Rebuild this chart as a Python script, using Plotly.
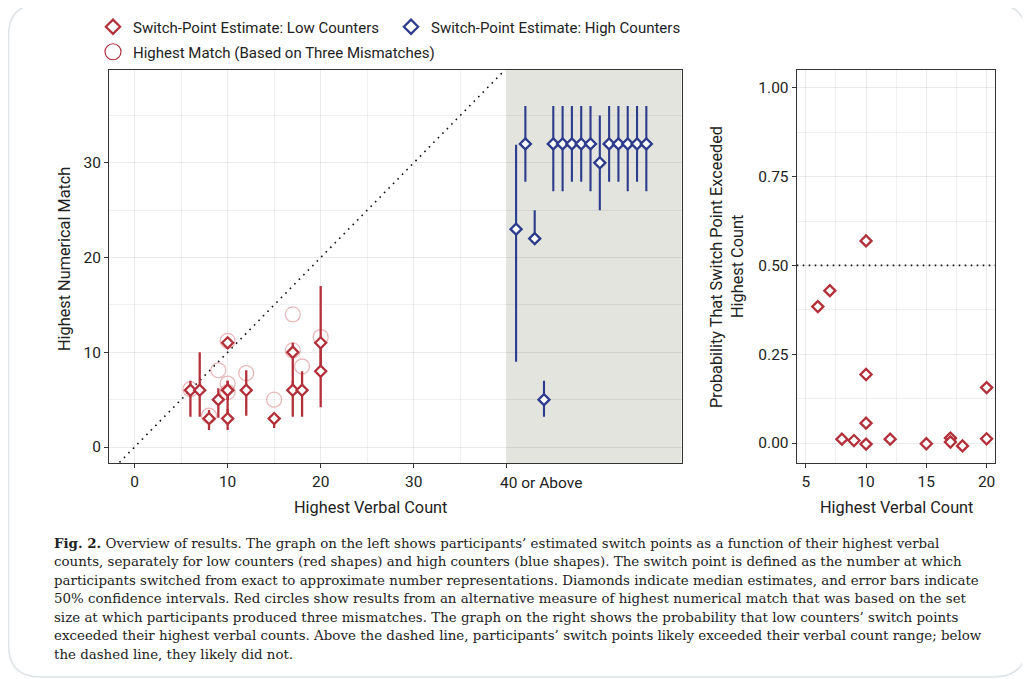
import plotly.graph_objects as go

# ---------------- data ----------------
# Low counters: highest verbal count, switch-point median, 50% CI
low_x = [6, 7, 8, 9, 10, 10, 10, 10, 12, 15, 17, 17, 18, 20, 20]
low_y = [6, 6, 3, 5, 11, 6, 6, 3, 6, 3, 10, 6, 6, 11, 8]
low_lo = [3.2, 3.2, 1.8, 3.1, 11, 3.2, 5, 1.8, 3.3, 2.0, 6, 3.2, 3.2, 8, 4.2]
low_hi = [7, 10, 3.9, 6.2, 11, 7, 7, 4, 8.1, 3.5, 11, 7, 8, 17, 11]

# High counters (40 or above), plotted in order
high_x = [41, 42, 43, 44, 45, 46, 47, 48, 49, 50, 51, 52, 53, 54, 55]
high_y = [23, 32, 22, 5, 32, 32, 32, 32, 32, 30, 32, 32, 32, 32, 32]
high_lo = [9, 28, 22, 3.2, 27, 27, 28, 28, 27, 25, 28, 28, 27, 28, 27]
high_hi = [31.9, 36, 25, 7, 36, 36, 36, 36, 36, 35, 36, 36, 36, 36, 36]

# Highest match based on three mismatches (red circles)
match_x = [6, 8, 9, 10, 10, 10, 12, 15, 17, 17, 18, 20]
match_y = [6.1, 3.3, 8.1, 11.2, 6.7, 5.8, 7.8, 5.0, 14.0, 10.2, 8.5, 11.6]

# Right panel: probability switch point exceeded highest count
prob_x = [6, 7, 8, 9, 10, 10, 10, 10, 12, 15, 17, 17, 18, 20, 20]
prob_y = [0.384, 0.429, 0.011, 0.007, 0.569, 0.193, 0.056, -0.003,
          0.011, -0.002, 0.014, 0.003, -0.008, 0.156, 0.012]
THRESHOLD = 0.5

left_ticks = [0, 10, 20, 30, 40]
left_ticktext = ["0", "10", "20", "30", ""]
left_yticks = [0, 10, 20, 30]
right_xticks = [5, 10, 15, 20]
right_yticks = [0, 0.25, 0.5, 0.75, 1.0]
HIGH_START = 40
LEFT_XRANGE = [-2.75, 58.8]
LEFT_YRANGE = [-1.72, 39.8]
RIGHT_XRANGE = [4.25, 20.72]
RIGHT_YRANGE = [-0.057, 1.05]

caption_lines = [
    "<b>Fig. 2.</b> Overview of results. The graph on the left shows participants’ estimated switch points as a function of their highest verbal",
    "counts, separately for low counters (red shapes) and high counters (blue shapes). The switch point is defined as the number at which",
    "participants switched from exact to approximate number representations. Diamonds indicate median estimates, and error bars indicate",
    "50% confidence intervals. Red circles show results from an alternative measure of highest numerical match that was based on the set",
    "size at which participants produced three mismatches. The graph on the right shows the probability that low counters’ switch points",
    "exceeded their highest verbal counts. Above the dashed line, participants’ switch points likely exceeded their verbal count range; below",
    "the dashed line, they likely did not.",
]

# ---------------- style ----------------
W, H = 1030, 679
OFF = 8  # page body margin
RED = "#b3303a"
BLUE = "#2c3b8c"
SANS = "Roboto, Liberation Sans, sans-serif"
SERIF = "DejaVu Serif, Liberation Serif, serif"
TXT = "#222222"
GRID = "rgba(0,0,0,0.08)"
GRID_MINOR = "rgba(0,0,0,0.06)"


def px(x):
    return (x - OFF) / W


def py(y):
    return 1 - (y - OFF) / H


fig = go.Figure()

# diagonal reference line y = x
fig.add_trace(go.Scatter(x=[-5, HIGH_START], y=[-5, HIGH_START], mode="lines",
                         line=dict(color="#111", width=1.6, dash="1.6px,4.8px"),
                         hoverinfo="skip", showlegend=False, xaxis="x", yaxis="y"))

# red circles
fig.add_trace(go.Scatter(x=match_x, y=match_y, mode="markers",
                         marker=dict(symbol="circle-open", size=15, color="rgba(200,80,85,0.40)",
                                     line=dict(width=1.3)),
                         showlegend=False, xaxis="x", yaxis="y"))

# low counters diamonds with CI
fig.add_trace(go.Scatter(
    x=low_x, y=low_y, mode="markers",
    error_y=dict(type="data", symmetric=False,
                 array=[h - y for h, y in zip(low_hi, low_y)],
                 arrayminus=[y - l for l, y in zip(low_lo, low_y)],
                 color=RED, thickness=2.3, width=0),
    marker=dict(symbol="diamond", size=8.5, color="white", line=dict(color=RED, width=2.3)),
    showlegend=False, xaxis="x", yaxis="y"))

# high counters diamonds with CI
fig.add_trace(go.Scatter(
    x=high_x, y=high_y, mode="markers",
    error_y=dict(type="data", symmetric=False,
                 array=[h - y for h, y in zip(high_hi, high_y)],
                 arrayminus=[y - l for l, y in zip(high_lo, high_y)],
                 color=BLUE, thickness=2.1, width=0),
    marker=dict(symbol="diamond", size=8.5, color="white", line=dict(color=BLUE, width=2.3)),
    showlegend=False, xaxis="x", yaxis="y"))

# right panel
fig.add_trace(go.Scatter(
    x=prob_x, y=prob_y, mode="markers",
    marker=dict(symbol="diamond", size=8.5, color="white", line=dict(color=RED, width=2.3)),
    showlegend=False, xaxis="x2", yaxis="y2"))

# legend entries
fig.add_trace(go.Scatter(x=[None], y=[None], mode="markers", name="Switch-Point Estimate: Low Counters",
                         marker=dict(symbol="diamond", size=11, color="white", line=dict(color=RED, width=2.2)),
                         legend="legend", xaxis="x", yaxis="y"))
fig.add_trace(go.Scatter(x=[None], y=[None], mode="markers", name="Switch-Point Estimate: High Counters",
                         marker=dict(symbol="diamond", size=11, color="white", line=dict(color=BLUE, width=2.2)),
                         legend="legend2", xaxis="x", yaxis="y"))
fig.add_trace(go.Scatter(x=[None], y=[None], mode="markers", name="Highest Match (Based on Three Mismatches)",
                         marker=dict(symbol="circle-open", size=16, color=RED, line=dict(width=1.2)),
                         legend="legend3", xaxis="x", yaxis="y"))

axis_common = dict(showline=True, mirror=True, linecolor="#333", linewidth=1,
                   ticks="outside", ticklen=4, tickcolor="#333", tickwidth=1,
                   gridcolor=GRID, gridwidth=1, zeroline=False,
                   tickfont=dict(family=SANS, size=15.5, color=TXT), automargin=False)

leg_common = dict(bgcolor="rgba(0,0,0,0)", font=dict(family=SANS, size=15, color=TXT),
                  xanchor="left", yanchor="middle", orientation="h", itemclick=False)

fig.update_layout(
    width=W, height=H, margin=dict(l=0, r=0, t=0, b=0),
    paper_bgcolor="white", plot_bgcolor="white",
    xaxis=dict(domain=[px(109), px(681.7)], range=LEFT_XRANGE,
               tickvals=left_ticks, ticktext=left_ticktext,
               minor=dict(tickvals=[5, 15, 25, 35], showgrid=True, gridcolor=GRID_MINOR, ticks=""),
               **axis_common),
    yaxis=dict(domain=[py(463.3), py(70)], range=LEFT_YRANGE, tickvals=left_yticks,
               minor=dict(tickvals=[5, 15, 25, 35], showgrid=True, gridcolor=GRID_MINOR, ticks=""),
               **axis_common),
    xaxis2=dict(domain=[px(796.7), px(995.3)], range=RIGHT_XRANGE, tickvals=right_xticks,
                minor=dict(tickvals=[7.5, 12.5, 17.5], showgrid=True, gridcolor=GRID_MINOR, ticks=""),
                anchor="y2", **axis_common),
    yaxis2=dict(domain=[py(463.3), py(70)], range=RIGHT_YRANGE, tickvals=right_yticks,
                tickformat=".2f",
                minor=dict(tickvals=[0.125, 0.375, 0.625, 0.875], showgrid=True, gridcolor=GRID_MINOR, ticks=""),
                anchor="x2", **axis_common),
    legend=dict(x=px(93), y=py(27), **leg_common),
    legend2=dict(x=px(391), y=py(27), **leg_common),
    legend3=dict(x=px(93), y=py(52), **leg_common),
)

shapes = [
    # shaded region for high counters
    dict(type="rect", xref="x", yref="y", x0=HIGH_START, x1=LEFT_XRANGE[1],
         y0=LEFT_YRANGE[0], y1=LEFT_YRANGE[1],
         fillcolor="#e3e4de", line=dict(width=0), layer="below"),
    # threshold line
    dict(type="line", xref="x2", yref="y2", x0=RIGHT_XRANGE[0], x1=RIGHT_XRANGE[1],
         y0=THRESHOLD, y1=THRESHOLD,
         line=dict(color="#111", width=1.6, dash="1.6px,4.4px")),
]
# rounded outer frame
x0, x1, y0, y1, r = 8.5, 1026, 4, 677, 32
path = (f"M {px(x0 + r)},{py(y0)} L {px(x1 - r)},{py(y0)} Q {px(x1)},{py(y0)} {px(x1)},{py(y0 + r)} "
        f"L {px(x1)},{py(y1 - r)} Q {px(x1)},{py(y1)} {px(x1 - r)},{py(y1)} "
        f"L {px(x0 + r)},{py(y1)} Q {px(x0)},{py(y1)} {px(x0)},{py(y1 - r)} "
        f"L {px(x0)},{py(y0 + r)} Q {px(x0)},{py(y0)} {px(x0 + r)},{py(y0)} Z")
shapes.append(dict(type="path", xref="paper", yref="paper", path=path,
                   line=dict(color="#dde3e7", width=1.5)))
fig.update_layout(shapes=shapes)

TITLE_SIZE = 16.3
ann = []
ann.append(dict(x=HIGH_START, xref="x", y=py(483), yref="paper", text="40 or Above", showarrow=False,
                xanchor="left", yanchor="middle", xshift=-9, font=dict(family=SANS, size=15.5, color=TXT)))
ann.append(dict(x=px(370), y=py(507), xref="paper", yref="paper", text="Highest Verbal Count",
                xanchor="center", yanchor="middle",
                showarrow=False, font=dict(family=SANS, size=TITLE_SIZE, color=TXT)))
ann.append(dict(x=px(896), y=py(507), xref="paper", yref="paper", text="Highest Verbal Count",
                xanchor="center", yanchor="middle",
                showarrow=False, font=dict(family=SANS, size=TITLE_SIZE, color=TXT)))
ann.append(dict(x=px(64), y=py(259), xref="paper", yref="paper", text="Highest Numerical Match",
                xanchor="center", yanchor="middle",
                showarrow=False, textangle=-90, font=dict(family=SANS, size=TITLE_SIZE, color=TXT)))
ann.append(dict(x=px(716), y=py(267), xref="paper", yref="paper",
                text="Probability That Switch Point Exceeded", xanchor="center", yanchor="middle",
                showarrow=False, textangle=-90, font=dict(family=SANS, size=TITLE_SIZE, color=TXT)))
ann.append(dict(x=px(737), y=py(267), xref="paper", yref="paper",
                text="Highest Count", xanchor="center", yanchor="middle",
                showarrow=False, textangle=-90, font=dict(family=SANS, size=TITLE_SIZE, color=TXT)))
cap_y = [543, 561.5, 580, 598.5, 617, 635.5, 654]
for line, yy in zip(caption_lines, cap_y):
    ann.append(dict(x=px(52), y=py(yy), xref="paper", yref="paper", text=line, showarrow=False,
                    xanchor="left", yanchor="middle", font=dict(family=SERIF, size=13.4, color=TXT)))
fig.update_layout(annotations=ann)

fig.write_html("out.html")
